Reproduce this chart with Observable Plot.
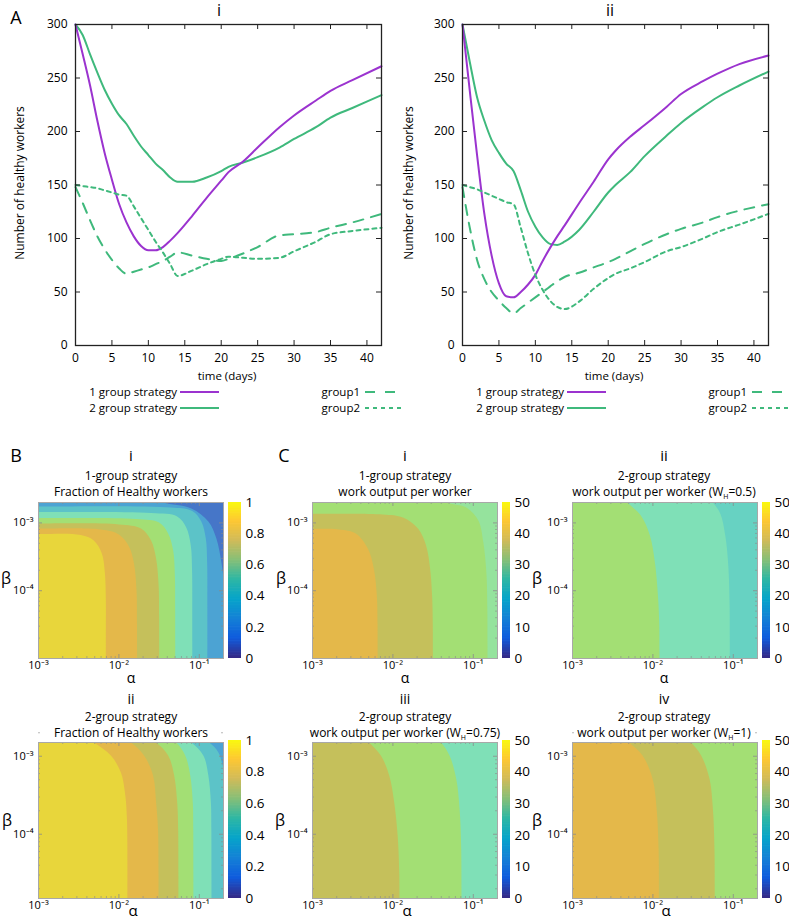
<!DOCTYPE html>
<html><head><meta charset="utf-8">
<script src="https://cdn.jsdelivr.net/npm/d3@7"></script>
<script src="https://cdn.jsdelivr.net/npm/@observablehq/plot@0.6"></script>
<style>
body{margin:0;background:#fff;}
#fig{position:relative;width:789px;height:921px;overflow:hidden;font-family:"Open Sans",sans-serif;color:#000;background:#fff;}
#fig svg{position:absolute;overflow:visible;max-width:none;}
.t{position:absolute;white-space:nowrap;line-height:1;}
.sb{font-size:7px;position:relative;top:3px;line-height:0;vertical-align:baseline;}
</style></head><body><div id="fig"></div>
<script>
// ---------------- DATA: panel A (time courses) ----------------
const days = [0,1,2,3,4,5,6,7,8,9,10,11,12,13,14,16,18,20,21,23,25,28,30,33,35,38,42];
const timeTicks = [0,5,10,15,20,25,30,35,40];
const countTicks = [0,50,100,150,200,250,300];
// A i
const ai_oneGroup = [300,272,243,210,180,155,132,115,102,93,89,89,92,98,105,121,138,154,162,172,185,204,215,229,238,248,261];
const ai_twoGroup = [300,290,272,255,239,226,215,207,196,186,178,170,164,157,153,153,157,163,167,171,176,185,193,204,213,222,234];
const ai_group1   = [148,133,117,102,90,80,72,67,69,71,73,76,79,83,87,84,81,79,81,86,92,103,104,106,110,115,123];
const ai_group2   = [150,149,148,147,145,143,141,140,130,119,108,97,87,76,65,70,76,81,83,82,81,82,88,97,104,107,110];
// A ii
const aii_oneGroup = [300,238,178,123,84,58,46,45,50,57,66,79,91,102,112,133,153,174,182,195,206,223,235,247,254,263,271];
const aii_twoGroup = [300,265,232,210,192,180,170,163,145,125,111,101,95,94,97,108,125,143,150,162,177,196,208,223,232,243,256];
const aii_group1   = [148,110,80,62,50,42,35,30,35,40,45,50,55,60,64,68,73,78,81,88,95,104,109,115,120,126,132];
const aii_group2   = [150,148,146,143,140,137,134,132,110,86,66,52,42,36,34,41,53,63,67,72,78,88,92,100,106,113,123];

// ---------------- DATA: panels B, C (filled contours) ----------------
const alphaDomain = [1e-3, 0.2];
const betaDomainRow1 = [1e-5, 2e-3];
const betaDomainRow2 = [1.5e-5, 1.5e-3];
const alphaTicks = [1e-3, 1e-2, 1e-1];
const betaTicks = [1e-4, 1e-3];
const alphaMinor = [2e-3,3e-3,4e-3,5e-3,6e-3,7e-3,8e-3,9e-3,2e-2,3e-2,4e-2,5e-2,6e-2,7e-2,8e-2,9e-2,2e-1];
const betaMinor = [2e-5,3e-5,4e-5,5e-5,6e-5,7e-5,8e-5,9e-5,2e-4,3e-4,4e-4,5e-4,6e-4,7e-4,8e-4,9e-4,2e-3];
const fracTicks = [0,0.2,0.4,0.6,0.8,1];
const workTicks = [0,10,20,30,40,50];
// parula colour map for the colour bars
const parulaPos = [0,0.125,0.25,0.375,0.5,0.625,0.75,0.875,1];
const parulaCol = ["#352a87","#0f5cdd","#1481d6","#06a4ca","#2eb7a4","#87bf77","#d1bb59","#fec832","#f9fb0e"];
// band fill colours (as seen in the figure)
const bandDark = "#4676c8", bandSteel = "#4ca3d3", bandTeal = "#5cc3c8", bandAqua = "#7fe0b7",
      bandGreen = "#a3df74", bandOlive = "#c5c05b", bandOrange = "#e4b84a", bandYellow = "#e8d63b",
      bandLightGreen = "#95e39d", bandTeal2 = "#67d2c2";
// contour level boundaries, points as [log10 alpha, log10 beta]; region to the lower-left has the higher value
const Bi_b03 = [[-3.3,-2.55],[-1.75,-2.55],[-1.6,-2.625],[-1.45,-2.699],[-1.1,-2.787],[-0.8875,-2.979],[-0.7875,-3.23],[-0.725,-3.584],[-0.6875,-3.967],[-0.65,-4.734],[-0.625,-5.62]];
const Bi_b04 = [[-3.3,-2.758],[-3,-2.758],[-1.35,-2.773],[-1.0875,-2.824],[-0.975,-2.979],[-0.919,-3.23],[-0.9025,-3.584],[-0.9,-4.2],[-0.9,-5.62]];
const Bi_b05 = [[-3.3,-2.839],[-3,-2.839],[-1.6,-2.854],[-1.275,-2.905],[-1.1625,-3.068],[-1.106,-3.333],[-1.09,-3.702],[-1.0875,-4.3],[-1.0875,-5.62]];
const Bi_b06 = [[-3.3,-2.928],[-3,-2.928],[-1.7875,-2.942],[-1.5,-2.994],[-1.3875,-3.156],[-1.325,-3.407],[-1.304,-3.776],[-1.3,-4.3],[-1.3,-5.62]];
const Bi_b07 = [[-3.3,-3.009],[-3,-3.009],[-2.0,-3.023],[-1.725,-3.083],[-1.6,-3.26],[-1.5375,-3.525],[-1.506,-3.923],[-1.5,-4.4],[-1.5,-5.62]];
const Bi_b08 = [[-3.3,-3.083],[-3,-3.083],[-2.225,-3.097],[-2.0,-3.171],[-1.875,-3.348],[-1.8125,-3.599],[-1.781,-3.997],[-1.775,-4.5],[-1.775,-5.62]];
const Bi_b09 = [[-3.3,-3.164],[-3,-3.164],[-2.475,-3.178],[-2.3125,-3.26],[-2.2125,-3.451],[-2.175,-3.731],[-2.1625,-4.144],[-2.1625,-4.6],[-2.1625,-5.62]];

const Bii_b04 = [[-3.3,-2.6],[-1.15,-2.6],[-1.0375,-2.734],[-0.875,-2.824],[-0.7625,-2.952],[-0.7,-3.157],[-0.65,-3.439],[-0.6,-3.952],[-0.5,-5.6]];
const Bii_b05 = [[-3.3,-2.6],[-1.37,-2.6],[-1.2625,-2.734],[-1.1,-2.824],[-0.95,-2.991],[-0.8875,-3.247],[-0.856,-3.593],[-0.85,-3.952],[-0.85,-5.6]];
const Bii_b06 = [[-3.3,-2.6],[-1.56,-2.6],[-1.45,-2.734],[-1.2875,-2.824],[-1.175,-2.991],[-1.1125,-3.247],[-1.081,-3.593],[-1.075,-3.952],[-1.075,-5.6]];
const Bii_b07 = [[-3.3,-2.6],[-1.81,-2.6],[-1.7,-2.734],[-1.5375,-2.824],[-1.3875,-2.991],[-1.3125,-3.247],[-1.275,-3.593],[-1.2625,-3.952],[-1.2625,-5.6]];
const Bii_b08 = [[-3.3,-2.6],[-2.12,-2.6],[-2.0125,-2.734],[-1.85,-2.824],[-1.6875,-2.991],[-1.575,-3.247],[-1.5375,-3.593],[-1.5125,-3.952],[-1.5125,-5.6]];
const Bii_b09 = [[-3.3,-2.6],[-2.58,-2.6],[-2.475,-2.734],[-2.3125,-2.824],[-2.1,-2.991],[-1.975,-3.209],[-1.925,-3.465],[-1.9,-3.798],[-1.9,-5.6]];

const Ci_b30 = [[-3.3,-2.55],[-1.45,-2.55],[-1.3125,-2.699],[-1.0875,-2.773],[-0.9375,-2.965],[-0.875,-3.289],[-0.8375,-3.731],[-0.825,-4.3],[-0.825,-5.6]];
const Ci_b35 = [[-3.3,-2.866],[-3,-2.866],[-2.125,-2.875],[-1.875,-2.92],[-1.6875,-3.083],[-1.5875,-3.333],[-1.5375,-3.672],[-1.5125,-4.071],[-1.504,-4.5],[-1.504,-5.6]];
const Ci_b40 = [[-3.3,-3.087],[-3,-3.087],[-2.675,-3.097],[-2.4625,-3.156],[-2.3125,-3.377],[-2.2375,-3.672],[-2.2,-4.071],[-2.191,-4.5],[-2.191,-5.6]];

const Cii_b25 = [[-3.3,-2.5],[-1.4,-2.5],[-1.254,-2.699],[-1.1625,-2.861],[-1.1,-3.186],[-1.0625,-3.628],[-1.046,-4.2],[-1.046,-5.6]];
const Cii_b30 = [[-3.3,-2.5],[-2.46,-2.5],[-2.316,-2.699],[-2.15,-2.891],[-2.0375,-3.186],[-1.975,-3.584],[-1.9375,-4.071],[-1.921,-4.5],[-1.921,-5.6]];

const Ciii_b30 = [[-3.3,-2.67],[-1.55,-2.67],[-1.4,-2.824],[-1.296,-2.991],[-1.2125,-3.289],[-1.171,-3.674],[-1.15,-4.2],[-1.15,-5.6]];
const Ciii_b35 = [[-3.3,-2.67],[-2.45,-2.67],[-2.296,-2.824],[-2.15,-2.991],[-2.046,-3.247],[-1.984,-3.589],[-1.941,-4.016],[-1.921,-4.5],[-1.921,-5.6]];

const Civ_b35 = [[-3.3,-2.67],[-1.675,-2.67],[-1.525,-2.824],[-1.4,-2.991],[-1.296,-3.289],[-1.254,-3.674],[-1.234,-4.2],[-1.234,-5.6]];
const Civ_b40 = [[-3.3,-2.67],[-2.45,-2.67],[-2.296,-2.824],[-2.129,-2.991],[-2.004,-3.289],[-1.954,-3.674],[-1.929,-4.2],[-1.929,-5.6]];

// ---------------- helpers ----------------
const fig = document.getElementById("fig");
const PURPLE = "#9b33cf", GREEN = "#3fb97c";
function place(node, x, y){ node.style.left = x + "px"; node.style.top = y + "px"; fig.appendChild(node); return node; }
function text(str, x, y, o = {}){
  const d = document.createElement("div");
  d.className = "t";
  d.innerHTML = str;
  d.style.fontSize = (o.size || 12) + "px";
  const tx = o.anchor === "end" ? "-100%" : o.anchor === "start" ? "0" : "-50%";
  d.style.transform = `translate(${tx},-50%)` + (o.rotate ? ` rotate(${o.rotate}deg)` : "");
  return place(d, x, y);
}
function legendLine(x1, x2, y, color, dash){
  const ns = "http://www.w3.org/2000/svg";
  const s = document.createElementNS(ns, "svg");
  s.setAttribute("width", x2 - x1); s.setAttribute("height", 6);
  const l = document.createElementNS(ns, "line");
  l.setAttribute("x1", 0); l.setAttribute("x2", x2 - x1); l.setAttribute("y1", 3); l.setAttribute("y2", 3);
  l.setAttribute("stroke", color); l.setAttribute("stroke-width", 2);
  if (dash) l.setAttribute("stroke-dasharray", dash);
  s.appendChild(l);
  place(s, x1, y - 3);
}
const sup = {"-":"⁻","0":"⁰","1":"¹","2":"²","3":"³","4":"⁴","5":"⁵","6":"⁶","7":"⁷","8":"⁸","9":"⁹"};
const powFmt = d => "10" + String(Math.round(Math.log10(d))).split("").map(c => sup[c]).join("");

// ---------------- panel A ----------------
function linePanel(left, mL, mR, series){
  const marks = [];
  for (const s of series){
    const pts = days.map((t, i) => ({t, v: s.values[i]}));
    marks.push(Plot.line(pts, {x: "t", y: "v", stroke: s.color, strokeWidth: 2, strokeDasharray: s.dash, curve: "monotone-x"}));
  }
  marks.push(
    Plot.ruleX(timeTicks, {x: d => d, y1: 0, y2: 0, insetTop: -5, stroke: "#222"}),
    Plot.ruleX(timeTicks, {x: d => d, y1: 300, y2: 300, insetBottom: -5, stroke: "#222"}),
    Plot.ruleY(countTicks, {y: d => d, x1: 0, x2: 0, insetRight: -5, stroke: "#222"}),
    Plot.ruleY(countTicks, {y: d => d, x1: 42, x2: 42, insetLeft: -5, stroke: "#222"}),
    Plot.frame({stroke: "#222", strokeWidth: 1.3}),
    Plot.axisX(timeTicks, {tickSize: 0, tickPadding: 8, fontSize: 12, label: null}),
    Plot.axisY(countTicks, {tickSize: 0, tickPadding: 8, fontSize: 12, label: null})
  );
  const svg = Plot.plot({
    width: mL + 306 + mR, height: 24 + 321 + 25,
    marginLeft: mL, marginRight: mR, marginTop: 24, marginBottom: 25,
    style: {fontFamily: "Open Sans, sans-serif", fontSize: "12px", background: "transparent", overflow: "visible", color: "#000"},
    x: {domain: [0, 42]}, y: {domain: [0, 300]},
    marks
  });
  place(svg, left, 0);
}
linePanel(0, 75, 9, [
  {values: ai_twoGroup, color: GREEN}, {values: ai_oneGroup, color: PURPLE},
  {values: ai_group1, color: GREEN, dash: "10,8"}, {values: ai_group2, color: GREEN, dash: "4,4"}
]);
linePanel(390, 72, 21, [
  {values: aii_twoGroup, color: GREEN}, {values: aii_oneGroup, color: PURPLE},
  {values: aii_group1, color: GREEN, dash: "10,8"}, {values: aii_group2, color: GREEN, dash: "4,4"}
]);
text("A", 16, 17, {size: 18});
text("i", 219, 10, {size: 16});
text("ii", 610, 10, {size: 16});
text("Number of healthy workers", 20, 183, {size: 12, rotate: -90});
text("Number of healthy workers", 409, 183, {size: 12, rotate: -90});
for (const dx of [0, 387]){
  text("time (days)", 227 + dx, 376, {size: 11.5});
  text("1 group strategy", 177 + dx, 391.5, {size: 11.5, anchor: "end"});
  text("2 group strategy", 177 + dx, 408, {size: 11.5, anchor: "end"});
  legendLine(180 + dx, 219 + dx, 391.5, PURPLE);
  legendLine(180 + dx, 219 + dx, 408, GREEN);
  text("group1", 360 + dx, 391.5, {size: 11.5, anchor: "end"});
  text("group2", 360 + dx, 408, {size: 11.5, anchor: "end"});
  legendLine(365 + dx, Math.min(395 + dx, 789), 391.5, GREEN, "10,10");
  legendLine(365 + dx, Math.min(403 + dx, 789), 408, GREEN, "4,4");
}

// ---------------- panels B, C ----------------
const parula = d3.scaleLinear().domain(parulaPos).range(parulaCol);
function contourPanel(x0, y0, yDomain, bg, layers){
  const mL = 42, mR = 2, mT = 2, mB = 24, w = 185, h = 156;
  const marks = [Plot.frame({fill: bg, stroke: "none"})];
  for (const [pts, fill] of layers){
    const poly = [[-3.4, -5.7], ...pts];
    marks.push(Plot.line(poly, {x: d => 10 ** d[0], y: d => 10 ** d[1], fill, stroke: "none", curve: "catmull-rom", clip: true}));
  }
  const tk = "#8a8a8a";
  marks.push(
    Plot.ruleX(alphaTicks, {x: d => d, y1: yDomain[0], y2: yDomain[0], insetTop: -4, stroke: tk, strokeWidth: 0.8}),
    Plot.ruleX(alphaTicks, {x: d => d, y1: yDomain[1], y2: yDomain[1], insetBottom: -4, stroke: tk, strokeWidth: 0.8}),
    Plot.ruleX(alphaMinor, {x: d => d, y1: yDomain[0], y2: yDomain[0], insetTop: -2, stroke: tk, strokeWidth: 0.6}),
    Plot.ruleX(alphaMinor, {x: d => d, y1: yDomain[1], y2: yDomain[1], insetBottom: -2, stroke: tk, strokeWidth: 0.6}),
    Plot.ruleY(betaTicks, {y: d => d, x1: alphaDomain[0], x2: alphaDomain[0], insetRight: -4, stroke: tk, strokeWidth: 0.8}),
    Plot.ruleY(betaTicks, {y: d => d, x1: alphaDomain[1], x2: alphaDomain[1], insetLeft: -4, stroke: tk, strokeWidth: 0.8}),
    Plot.ruleY(betaMinor, {y: d => d, x1: alphaDomain[0], x2: alphaDomain[0], insetRight: -2, stroke: tk, strokeWidth: 0.6}),
    Plot.ruleY(betaMinor, {y: d => d, x1: alphaDomain[1], x2: alphaDomain[1], insetLeft: -2, stroke: tk, strokeWidth: 0.6}),
    Plot.frame({stroke: "#a8a8a8"}),
    Plot.axisX(alphaTicks, {tickSize: 0, tickPadding: 3, fontSize: 11, tickFormat: powFmt, label: null}),
    Plot.axisY(betaTicks, {tickSize: 0, tickPadding: 5, fontSize: 11, tickFormat: powFmt, label: null})
  );
  const svg = Plot.plot({
    width: mL + w + mR, height: mT + h + mB,
    marginLeft: mL, marginRight: mR, marginTop: mT, marginBottom: mB,
    style: {fontFamily: "Open Sans, sans-serif", fontSize: "11px", background: "transparent", overflow: "visible", color: "#000"},
    x: {type: "log", domain: alphaDomain}, y: {type: "log", domain: yDomain},
    marks
  });
  place(svg, x0 - mL, y0 - mT);
}
function colorbar(x0, top, bottom, barW, max, ticks, fmt){
  const steps = d3.range(0, 100).map(i => i * max / 100);
  const svg = Plot.plot({
    width: barW + 30, height: bottom - top + 16,
    marginLeft: 0, marginRight: 30, marginTop: 8, marginBottom: 8,
    style: {fontFamily: "Open Sans, sans-serif", fontSize: "13px", background: "transparent", overflow: "visible", color: "#000"},
    x: {domain: [0, 1], axis: null}, y: {domain: [0, max], axis: null},
    color: {type: "identity"},
    marks: [
      Plot.rect(steps, {x1: 0, x2: 1, y1: d => d, y2: d => Math.min(max, d + max / 70), fill: d => parula(d / max)}),
      Plot.axisY(ticks, {anchor: "right", tickSize: 0, tickPadding: 4, fontSize: 13.5, tickFormat: fmt, label: null})
    ]
  });
  place(svg, x0, top - 8);
}
const fracFmt = d => d === 0 ? "0" : d === 1 ? "1" : d.toFixed(1);

// Row 1
contourPanel(38, 502, betaDomainRow1, bandDark, [
  [Bi_b03, bandSteel], [Bi_b04, bandTeal], [Bi_b05, bandAqua], [Bi_b06, bandGreen],
  [Bi_b07, bandOlive], [Bi_b08, bandOrange], [Bi_b09, bandYellow]]);
contourPanel(312, 502, betaDomainRow1, bandLightGreen, [[Ci_b30, bandGreen], [Ci_b35, bandOlive], [Ci_b40, bandOrange]]);
contourPanel(572, 502, betaDomainRow1, bandTeal2, [[Cii_b25, bandAqua], [Cii_b30, bandGreen]]);
// Row 2
contourPanel(38, 742, betaDomainRow2, bandSteel, [
  [Bii_b04, bandTeal], [Bii_b05, bandAqua], [Bii_b06, bandGreen],
  [Bii_b07, bandOlive], [Bii_b08, bandOrange], [Bii_b09, bandYellow]]);
contourPanel(312, 742, betaDomainRow2, bandAqua, [[Ciii_b30, bandGreen], [Ciii_b35, bandOlive]]);
contourPanel(572, 742, betaDomainRow2, bandGreen, [[Civ_b35, bandOlive], [Civ_b40, bandOrange]]);

colorbar(228, 502, 658, 13, 1, fracTicks, fracFmt);
colorbar(228, 740, 898, 13, 1, fracTicks, fracFmt);
colorbar(502, 502, 658, 8, 50, workTicks, d => String(d));
colorbar(762, 502, 658, 8, 50, workTicks, d => String(d));
colorbar(502, 740, 898, 8, 50, workTicks, d => String(d));
colorbar(762, 740, 898, 8, 50, workTicks, d => String(d));

// titles and axis names
text("B", 16, 455, {size: 18});
text("C", 284, 455, {size: 18});
const sub = "W<span class='sb'>H</span>";
const titles = [
  [131, 455, 476, 492, "i", "1-group strategy", "Fraction of Healthy workers", 15],
  [405, 455, 476, 492, "i", "1-group strategy", "work output per worker", 15],
  [664, 455, 476, 492, "ii", "2-group strategy", `work output per worker (${sub}=0.5)`, 15],
  [131, 698.5, 716.5, 733, "ii", "2-group strategy", "Fraction of Healthy workers", 14],
  [405, 698.5, 716.5, 733, "iii", "2-group strategy", `work output per worker (${sub}=0.75)`, 14],
  [664, 698.5, 716.5, 733, "iv", "2-group strategy", `work output per worker (${sub}=1)`, 14]
];
for (const [x, y1, y2, y3, a, b, c, s] of titles){
  text(a, x, y1, {size: s});
  text(b, x, y2, {size: 12});
  text(c, x, y3, {size: 12});
}
for (const [x, y] of [[131, 678], [405, 678], [664, 678]]) text("α", x, y, {size: 14});
for (const [x, y] of [[133, 910], [407, 910], [666, 910]]) text("α", x, y, {size: 15});
for (const [x, y] of [[6, 578], [281, 578], [537, 578], [7, 820], [280, 820], [537, 820]]) text("β", x, y, {size: 16});
</script></body></html>
